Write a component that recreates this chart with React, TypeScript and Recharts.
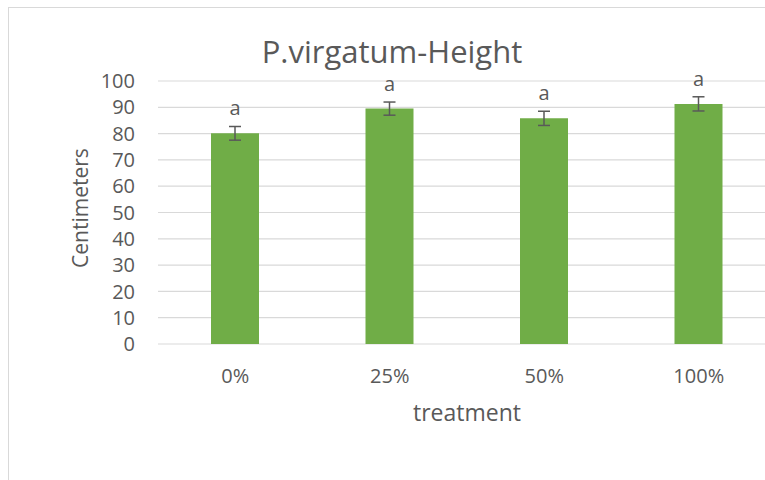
import React from "react";
import { BarChart, Bar, XAxis, YAxis, CartesianGrid, ErrorBar, LabelList } from "recharts";

const treatments = ["0%", "25%", "50%", "100%"];
const heights = [80.1, 89.5, 85.8, 91.3];
const errors = [2.6, 2.5, 2.7, 2.7];
const letters = ["a", "a", "a", "a"];
const yTicks = [0, 10, 20, 30, 40, 50, 60, 70, 80, 90, 100];

const data = treatments.map((t, i) => ({
  name: t,
  value: heights[i],
  err: errors[i],
  letter: letters[i],
}));

const FONT = "'Open Sans', sans-serif";
const GREY = "#595959";

// letter sits just above the top of the error bar
function LetterLabel(props: any) {
  const { x, y, width, height, index } = props;
  const d = data[index];
  const errPx = (d.err / d.value) * height;
  return (
    <text
      x={x + width / 2}
      y={y - errPx - 11}
      textAnchor="middle"
      fill={GREY}
      fontSize={20}
      fontFamily={FONT}
    >
      {d.letter}
    </text>
  );
}

export default function App() {
  return (
    <div
      style={{
        position: "fixed",
        left: 8,
        top: 7,
        width: 800,
        height: 520,
        background: "#fff",
        borderLeft: "1.5px solid #D9D9D9",
        borderTop: "1.5px solid #D9D9D9",
        boxSizing: "border-box",
      }}
    >
      <div style={{ position: "absolute", left: -1.5, top: -1.5, width: 780, height: 464 }}>
        <BarChart
          width={780}
          height={464}
          data={data}
          margin={{ top: 74, right: 12, left: 0, bottom: 97 }}
          barSize={48}
        >
          <CartesianGrid vertical={false} stroke="#D9D9D9" strokeWidth={1.2} x={150} width={630} />
          <XAxis
            dataKey="name"
            axisLine={false}
            tickLine={false}
            tickSize={0}
            tickMargin={25}
            tick={{ fill: GREY, fontSize: 20, fontFamily: FONT }}
          />
          <YAxis
            width={150}
            domain={[0, 100]}
            ticks={yTicks}
            interval={0}
            axisLine={false}
            tickLine={false}
            tickSize={0}
            tickMargin={23}
            tick={{ fill: GREY, fontSize: 20, fontFamily: FONT }}
          />
          <Bar dataKey="value" fill="#70AD47" isAnimationActive={false}>
            <ErrorBar dataKey="err" width={6} stroke={GREY} strokeWidth={1.5} direction="y" />
            <LabelList dataKey="letter" content={<LetterLabel />} />
          </Bar>
        </BarChart>
      </div>
      <svg
        width={757}
        height={473}
        style={{ position: "absolute", left: -1.5, top: -1.5, pointerEvents: "none" }}
      >
        <text x={384} y={56} textAnchor="middle" fill={GREY} fontSize={31} fontFamily={FONT}>
          P.virgatum-Height
        </text>
        <text x={459} y={414} textAnchor="middle" fill={GREY} fontSize={23} fontFamily={FONT}>
          treatment
        </text>
        <text
          x={80}
          y={201}
          textAnchor="middle"
          fill={GREY}
          fontSize={21}
          fontFamily={FONT}
          transform="rotate(-90 80 201)"
        >
          Centimeters
        </text>
      </svg>
    </div>
  );
}
